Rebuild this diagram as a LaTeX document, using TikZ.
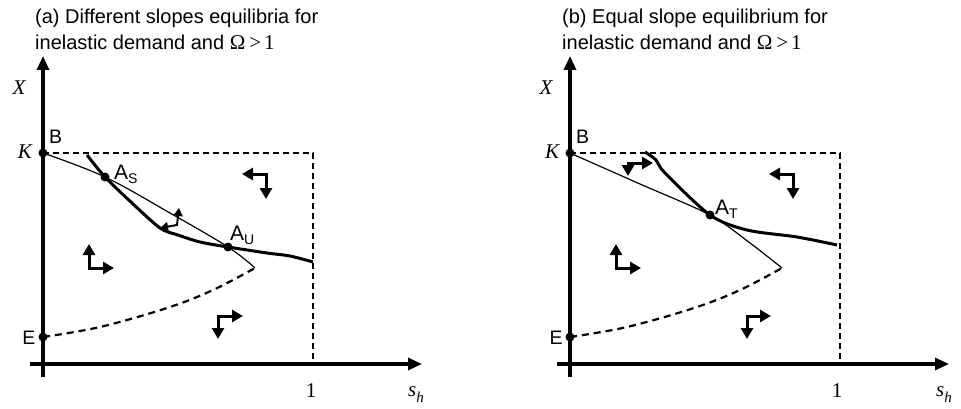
\documentclass[tikz,border=0pt]{standalone}
\usepackage{fontspec}
\setmainfont{Liberation Sans}
\newfontfamily\tms{Liberation Serif}
\usetikzlibrary{arrows.meta}
\begin{document}
\begin{tikzpicture}[x=1pt,y=-1pt,
  axis/.style={line width=3.2pt,-{Triangle[length=14pt,width=12pt]}},
  bound/.style={line width=2.2pt,dash pattern=on 6pt off 4pt},
  thinc/.style={line width=1.2pt},
  thickc/.style={line width=3pt},
  dashc/.style={line width=2.2pt,dash pattern=on 7pt off 5pt},
  phase/.style={line width=3pt,line join=miter,{Triangle[length=11pt,width=12pt]}-{Triangle[length=11pt,width=12pt]}},
  phasesm/.style={line width=2pt,line join=miter,{Triangle[length=8pt,width=9pt]}-{Triangle[length=8pt,width=9pt]}},
  dot/.style={circle,fill,inner sep=0pt,minimum size=9pt},
  ttl/.style={anchor=base west,inner sep=0pt,font=\fontsize{20}{24}\selectfont},
  lbl/.style={inner sep=0pt,font=\fontsize{19.5}{22}\selectfont},
  tlbl/.style={inner sep=0pt,font=\fontsize{21}{22}\selectfont\tms},
  albl/.style={anchor=base west,inner sep=0pt,font=\fontsize{21}{22}\selectfont}
]
\useasboundingbox (0,0) rectangle (961,409);

% ================= Panel (a) =================
\node[ttl] (ta1) at (35,24) {(a) Different slopes equilibria for};
\node[ttl] (ta2) at (35,50) {inelastic demand and {\tms\fontsize{21}{22}\selectfont Ω\hspace{4pt}>\hspace{3pt}1}};

\coordinate (ay0) at (43,377);
\coordinate (ay1) at (43,56);
\coordinate (ax0) at (30,364);
\coordinate (ax1) at (422,364);
\draw[axis] (ay0) -- (ay1);
\draw[axis] (ax0) -- (ax1);

\coordinate (aTR) at (313,153);
\coordinate (aBR) at (313,364);
\node[dot] (aK) at (43,153) {};
\node[dot] (aE) at (43,337) {};
\node[dot] (aAS) at (105,177) {};
\node[dot] (aAU) at (228,247) {};
\coordinate (aEnd) at (255,268);

\draw[bound] (aK.center) -- (aTR) -- (aBR);

% thin curve
\draw[thinc] plot[smooth,tension=0.6] coordinates {(aK.center) (aAS.center) (170,213) (aAU.center) (aEnd)};
% thick curve
\draw[thickc] plot[smooth,tension=0.5] coordinates {(87,155) (aAS.center) (132,203) (160,228) (178,235) (200,242) (aAU.center) (267,253) (290,256) (313,262)};
% dashed curve
\draw[dashc] plot[smooth,tension=0.6] coordinates {(aE.center) (100,327) (167,308) (213,290) (aEnd)};

% phase arrows
\coordinate (p1c) at (266,174);
\coordinate (p1a) at (242,174);
\coordinate (p1b) at (266,199);
\draw[phase] (p1a) -- (p1c) -- (p1b);
\coordinate (p2c) at (89,268);
\coordinate (p2a) at (89,244);
\coordinate (p2b) at (114,268);
\draw[phase] (p2a) -- (p2c) -- (p2b);
\coordinate (p3c) at (218,316);
\coordinate (p3a) at (243,316);
\coordinate (p3b) at (218,339);
\draw[phase] (p3a) -- (p3c) -- (p3b);
\coordinate (p4c) at (177,225);
\coordinate (p4a) at (160,228);
\coordinate (p4b) at (179,208);
\draw[phasesm] (p4a) -- (p4c) -- (p4b);

% labels
\node[tlbl,font=\fontsize{21}{22}\selectfont\tms\itshape] (aX) at (19,88) {X};
\node[tlbl,font=\fontsize{21}{22}\selectfont\tms\itshape] (aKl) at (25,152) {K};
\node[lbl,anchor=base west] (aB) at (49,143) {B};
\node[lbl] (aEl) at (29,338) {E};
\node[albl] (aASl) at (114,179) {A\raisebox{-4pt}{\fontsize{14}{14}\selectfont S}};
\node[albl] (aAUl) at (230,240) {A\raisebox{-4pt}{\fontsize{14}{14}\selectfont U}};
\node[tlbl,anchor=base] (a1) at (311,397) {1};
\node[tlbl,anchor=base west] (ash) at (408,396) {\itshape s\raisebox{-6pt}{\fontsize{15}{15}\selectfont\itshape h}};

% ================= Panel (b) =================
\node[ttl] (tb1) at (562,24) {(b) Equal slope equilibrium for};
\node[ttl] (tb2) at (562,50) {inelastic demand and {\tms\fontsize{21}{22}\selectfont Ω\hspace{4pt}>\hspace{3pt}1}};

\coordinate (by0) at (570,377);
\coordinate (by1) at (570,56);
\coordinate (bx0) at (557,364);
\coordinate (bx1) at (949,364);
\draw[axis] (by0) -- (by1);
\draw[axis] (bx0) -- (bx1);

\coordinate (bTR) at (840,153);
\coordinate (bBR) at (840,364);
\node[dot] (bK) at (570,153) {};
\node[dot] (bE) at (570,337) {};
\node[dot] (bAT) at (710,215) {};
\coordinate (bEnd) at (782,268);

\draw[bound] (bK.center) -- (bTR) -- (bBR);

% thin curve
\draw[thinc] plot[smooth,tension=0.5] coordinates {(bK.center) (640,184) (bAT.center) (750,243) (bEnd)};
% thick curve
\draw[thickc] plot[smooth,tension=0.5] coordinates {(645,152) (656,160) (665,173) (bAT.center) (747,230) (797,237) (837,245)};
% dashed curve
\draw[dashc] plot[smooth,tension=0.6] coordinates {(bE.center) (627,327) (694,308) (740,290) (bEnd)};

% phase arrows
\coordinate (q1c) at (793,174);
\coordinate (q1a) at (769,174);
\coordinate (q1b) at (793,199);
\draw[phase] (q1a) -- (q1c) -- (q1b);
\coordinate (q2c) at (616,268);
\coordinate (q2a) at (616,244);
\coordinate (q2b) at (641,268);
\draw[phase] (q2a) -- (q2c) -- (q2b);
\coordinate (q3c) at (747,316);
\coordinate (q3a) at (771,316);
\coordinate (q3b) at (747,339);
\draw[phase] (q3a) -- (q3c) -- (q3b);
\coordinate (q4c) at (628,163);
\coordinate (q4a) at (653,163);
\coordinate (q4b) at (628,176);
\draw[phase] (q4a) -- (q4c) -- (q4b);

% labels
\node[tlbl,font=\fontsize{21}{22}\selectfont\tms\itshape] (bX) at (546,88) {X};
\node[tlbl,font=\fontsize{21}{22}\selectfont\tms\itshape] (bKl) at (552,152) {K};
\node[lbl,anchor=base west] (bB) at (576,143) {B};
\node[lbl] (bEl) at (556,338) {E};
\node[albl] (bATl) at (715,214) {A\raisebox{-4pt}{\fontsize{14}{14}\selectfont T}};
\node[tlbl,anchor=base] (b1) at (837,397) {1};
\node[tlbl,anchor=base west] (bsh) at (936,396) {\itshape s\raisebox{-6pt}{\fontsize{15}{15}\selectfont\itshape h}};
\end{tikzpicture}
\end{document}
